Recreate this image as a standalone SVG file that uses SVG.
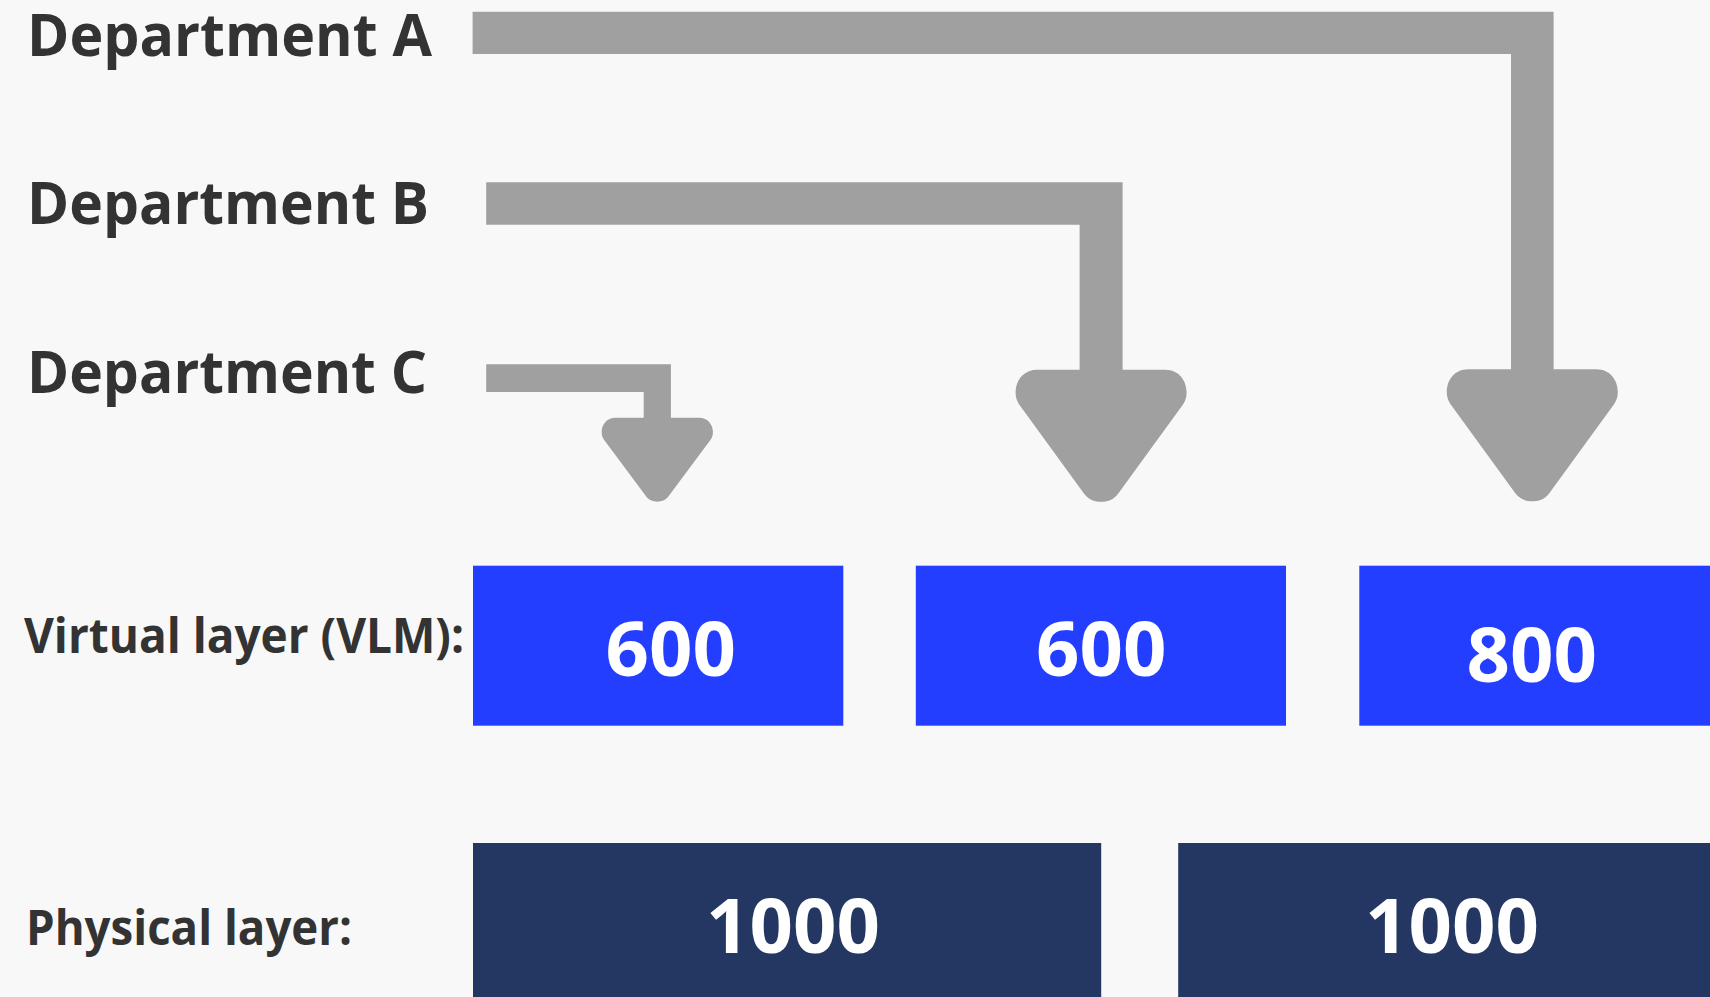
<svg xmlns="http://www.w3.org/2000/svg" xmlns:xlink="http://www.w3.org/1999/xlink" width="1710" height="997" viewBox="0 0 1710 997">
<style>
.lbl{font-family:"Open Sans","Noto Sans","Liberation Sans",sans-serif;font-weight:700;fill:#333333}
.num{font-family:"Open Sans","Noto Sans","Liberation Sans",sans-serif;font-weight:700;fill:#ffffff;font-size:76px;text-anchor:middle}
.conn{fill:#a0a0a0}
.vbox{fill:#243eff}
.pbox{fill:#243763}
</style>
<defs>
<path id="ah" d="M -64 0 L 64 0 C 78 0 85.5 11 85.5 23 C 85.5 29 83 33.5 81 36 L 17 124 C 12 130.5 6 132 0 132 C -6 132 -12 130.5 -17 124 L -81 36 C -83 33.5 -85.5 29 -85.5 23 C -85.5 11 -78 0 -64 0 Z"/>
</defs>
<rect width="1710" height="997" fill="#f8f8f8"/>
<g id="labels">
<text class="lbl" x="27" y="55.7" font-size="59" textLength="405" lengthAdjust="spacingAndGlyphs">Department A</text>
<text class="lbl" x="27" y="224" font-size="59" textLength="402" lengthAdjust="spacingAndGlyphs">Department B</text>
<text class="lbl" x="27" y="393" font-size="59" textLength="400" lengthAdjust="spacingAndGlyphs">Department C</text>
<text class="lbl" x="24" y="653.3" font-size="48" textLength="440" lengthAdjust="spacingAndGlyphs">Virtual layer (VLM):</text>
<text class="lbl" x="26" y="945" font-size="48" textLength="326" lengthAdjust="spacingAndGlyphs">Physical layer:</text>
</g>
<g id="connectors">
<path class="conn" d="M 472.6 11.7 H 1553.6 V 372 H 1511 V 54 H 472.6 Z"/>
<use class="conn" xlink:href="#ah" href="#ah" transform="translate(1532.3,369.3)"/>
<path class="conn" d="M 486.2 182.3 H 1122.6 V 372 H 1079.6 V 224.7 H 486.2 Z"/>
<use class="conn" xlink:href="#ah" href="#ah" transform="translate(1101.1,369.7)"/>
<path class="conn" d="M 486.2 364.3 H 670.9 V 420 H 643.7 V 392 H 486.2 Z"/>
<use class="conn" xlink:href="#ah" href="#ah" transform="translate(657.3,417.7) scale(0.651,0.636)"/>
</g>
<g id="vlm1"><rect class="vbox" x="473" y="565.7" width="370.3" height="160"/><text class="num" x="670.8" y="675.7">600</text></g>
<g id="vlm2"><rect class="vbox" x="915.8" y="565.7" width="370.2" height="160"/><text class="num" x="1101.3" y="675.7">600</text></g>
<g id="vlm3"><rect class="vbox" x="1359.3" y="565.7" width="360" height="160"/><text class="num" x="1531.7" y="681.7">800</text></g>
<g id="phys1"><rect class="pbox" x="473" y="843" width="628.2" height="160"/><text class="num" x="793" y="953.3">1000</text></g>
<g id="phys2"><rect class="pbox" x="1178.2" y="843" width="540" height="160"/><text class="num" x="1452" y="953.3">1000</text></g>
</svg>
